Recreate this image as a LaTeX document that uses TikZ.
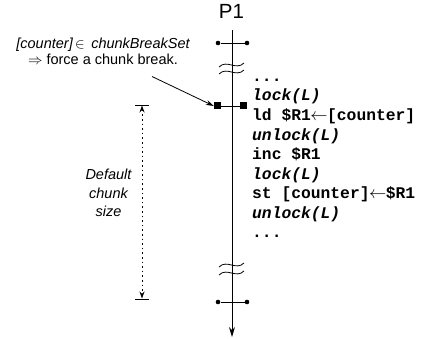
\documentclass[tikz,border=0pt]{standalone}
\usepackage{fontspec}
\setmainfont{Liberation Sans}
\newfontfamily\codefont{Liberation Mono}
\usetikzlibrary{arrows.meta}
\newcommand{\codearrow}{\kern-0.5pt$\leftarrow$\kern-0.5pt}
\begin{document}
\begin{tikzpicture}[x=1pt,y=-1pt,
  lbl/.style={font=\fontsize{14.5}{16}\selectfont\itshape, inner sep=0pt, anchor=base},
  plain/.style={font=\fontsize{14.5}{16}\selectfont, inner sep=0pt, anchor=base},
  code/.style={font=\codefont\fontsize{16.3}{19.5}\selectfont\bfseries, anchor=base west, inner sep=0pt},
  codei/.style={font=\codefont\fontsize{16.3}{19.5}\selectfont\bfseries\itshape, anchor=base west, inner sep=0pt},
  dotmark/.style={circle, fill=black, inner sep=0pt, minimum size=4.6pt},
  sqmark/.style={rectangle, fill=black, inner sep=0pt, minimum size=7pt},
  timeline/.style={line width=0.9pt},
  tick/.style={line width=0.8pt},
  wave/.style={line width=0.8pt},
  dimbar/.style={line width=0.9pt},
  dimline/.style={line width=0.9pt, dash pattern=on 1.6pt off 3pt,
    {Stealth[length=7pt,width=5pt]}-{Stealth[length=7pt,width=5pt]}},
  pointer/.style={line width=0.8pt, -{Stealth[length=8pt,width=5pt]}}
]
\useasboundingbox (0,0) rectangle (422,339);

% process label and time line
\node[font=\fontsize{20.5}{22}\selectfont, inner sep=0pt, anchor=base] (p1) at (231.5,18.5) {P1};
\coordinate (top) at (232,30);
\coordinate (bottom) at (232,337);
\draw[timeline, -{Stealth[length=10pt,width=6pt]}] (top) -- (bottom);

% top dotted bar
\node[dotmark] (d1) at (218,43) {};
\node[dotmark] (d2) at (247,43) {};
\draw[tick] (d1) -- (d2);

% top break squiggle
\draw[wave] (219,67) .. controls (227,59) and (236,71) .. (244,63);
\draw[wave] (219,74) .. controls (227,66) and (236,78) .. (244,70);

% chunk break squares
\node[sqmark] (sqL) at (217.5,106) {};
\node[sqmark] (sqR) at (243.5,106) {};
\draw[tick] (sqL) -- (sqR);

% bottom break squiggle
\draw[wave] (219,267) .. controls (227,259) and (236,271) .. (244,263);
\draw[wave] (219,275) .. controls (227,267) and (236,279) .. (244,271);

% bottom dotted bar
\node[dotmark] (d3) at (218,302) {};
\node[dotmark] (d4) at (247,302) {};
\draw[tick] (d3) -- (d4);

% annotation
\node[lbl] (ann1) at (103,49) {[counter]\,$\in$\, chunkBreakSet};
\node[plain] (ann2) at (103,65) {$\Rightarrow$ force a chunk break.};
\coordinate (astart) at (152,76.5);
\draw[pointer] (astart) -- (sqL.west);

% code
\node[code]  (c0) at (252,81.5)  {...};
\node[codei] (c1) at (252,101)   {lock(L)};
\node[code]  (c2) at (252,120.5) {ld \$R1\codearrow[counter]};
\node[codei] (c3) at (252,140)   {unlock(L)};
\node[code]  (c4) at (252,159.5) {inc \$R1};
\node[codei] (c5) at (252,179)   {lock(L)};
\node[code]  (c6) at (252,198.5) {st [counter]\codearrow\$R1};
\node[codei] (c7) at (252,218)   {unlock(L)};
\node[code]  (c8) at (252,237.5) {...};

% default chunk size dimension
\coordinate (bt1) at (135,105);
\coordinate (bt2) at (149,105);
\coordinate (bb1) at (135,299);
\coordinate (bb2) at (149,299);
\draw[dimbar] (bt1) -- (bt2);
\draw[dimbar] (bb1) -- (bb2);
\coordinate (dimT) at (142,105.5);
\coordinate (dimB) at (142,298.5);
\draw[dimline] (dimT) -- (dimB);
\node[lbl] (def1) at (108.5,179.5) {Default};
\node[lbl] (def2) at (108.5,198) {chunk};
\node[lbl] (def3) at (108.5,216.5) {size};
\end{tikzpicture}
\end{document}
